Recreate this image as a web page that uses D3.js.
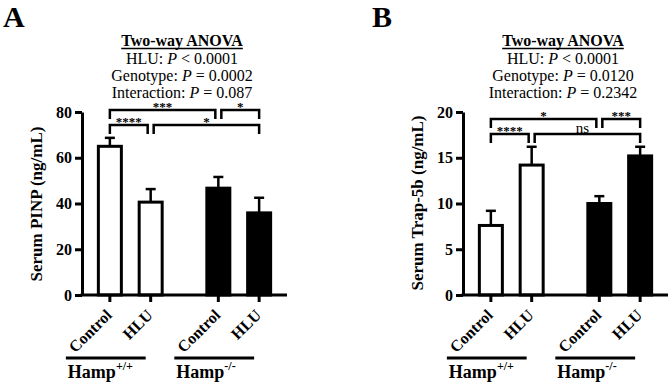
<!DOCTYPE html>
<html><head><meta charset="utf-8">
<script src="https://cdn.jsdelivr.net/npm/d3@7"></script>
<style>
body{margin:0;background:#fff}
svg{display:block}
text{font-family:"Liberation Serif","Times New Roman",serif;fill:#000}
</style>
</head><body><svg id="c" width="669" height="384"></svg>
<script>
// ---- data ----
const groups = ["+/+", "-/-"];
const treatments = ["Control", "HLU"];
const pinpMean = [65.0, 40.6, 46.7, 35.9];
const pinpSem  = [3.7, 5.7, 4.9, 6.6];
const trapMean = [7.6, 14.2, 10.0, 15.2];
const trapSem  = [1.6, 2.0, 0.8, 1.0];
const pinpTicks = [0, 20, 40, 60, 80];
const trapTicks = [0, 5, 10, 15, 20];
const pinpAnova = [["HLU: ", "< 0.0001"], ["Genotype: ", "= 0.0002"], ["Interaction: ", "= 0.087"]];
const trapAnova = [["HLU: ", "< 0.0001"], ["Genotype: ", "= 0.0120"], ["Interaction: ", "= 0.2342"]];
const pinpBrackets = [
  {from: 0, to: 2, row: 1, label: "***"},
  {from: 2, to: 3, row: 1, label: "*"},
  {from: 0, to: 1, row: 0, label: "****"},
  {from: 1, to: 3, row: 0, label: "*"}
];
const trapBrackets = [
  {from: 0, to: 2, row: 1, label: "*"},
  {from: 2, to: 3, row: 1, label: "***"},
  {from: 0, to: 1, row: 0, label: "****"},
  {from: 1, to: 3, row: 0, label: "ns"}
];

const panels = [
  {letter: "A", ox: 82, lx: 3, yLabel: "Serum PINP (ng/mL)", mean: pinpMean, sem: pinpSem,
   ticks: pinpTicks, anova: pinpAnova, brackets: pinpBrackets, rowBase: 125, labelY: 204},
  {letter: "B", ox: 463, lx: 372, yLabel: "Serum Trap-5b (ng/mL)", mean: trapMean, sem: trapSem,
   ticks: trapTicks, anova: trapAnova, brackets: trapBrackets, rowBase: 134, labelY: 203}
];

const svg = d3.select("#c");
const y0 = 295, yTop = 112, axisW = 205;

panels.forEach(p => {
  const g = svg.append("g");
  const y = d3.scaleLinear().domain([0, d3.max(p.ticks)]).range([y0, yTop]);
  const xo = d3.scaleBand().domain(groups).range([p.ox, p.ox + axisW]).paddingInner(0.25).paddingOuter(0.07);
  const xi = d3.scaleBand().domain(treatments).range([0, xo.bandwidth()]).paddingInner(0.4363).paddingOuter(0.215);
  const bars = [];
  groups.forEach((gr, gi) => treatments.forEach((t, ti) => {
    const i = gi * 2 + ti;
    bars.push({group: gr, treat: t, gi, i, mean: p.mean[i], sem: p.sem[i],
      x: xo(gr) + xi(t), cx: xo(gr) + xi(t) + xi.bandwidth() / 2});
  }));

  // panel letter
  g.append("text").attr("x", p.lx).attr("y", 27).attr("font-size", 30).attr("font-weight", "bold").text(p.letter);

  // ANOVA title
  const tx = p.ox + 100;
  const t0 = g.append("text").attr("x", tx).attr("y", 46).attr("text-anchor", "middle")
    .attr("font-size", 16).attr("font-weight", "bold").text("Two-way ANOVA");
  const tw = t0.node().getComputedTextLength();
  g.append("line").attr("x1", tx - tw / 2).attr("x2", tx + tw / 2).attr("y1", 48.5).attr("y2", 48.5)
    .attr("stroke", "#000").attr("stroke-width", 1.3);
  p.anova.forEach((a, k) => {
    const t = g.append("text").attr("x", tx).attr("y", 63.5 + k * 17.3).attr("text-anchor", "middle").attr("font-size", 16);
    t.append("tspan").text(a[0]);
    t.append("tspan").attr("font-style", "italic").text("P");
    t.append("tspan").text(" " + a[1]);
  });

  // y axis
  const ax = g.append("g").attr("transform", `translate(${p.ox},0)`)
    .call(d3.axisLeft(y).tickValues(p.ticks).tickSize(7).tickSizeOuter(0).tickPadding(3));
  ax.select(".domain").attr("stroke-width", 3);
  ax.selectAll(".tick line").attr("stroke-width", 3);
  ax.selectAll(".tick text").attr("font-size", 16).attr("font-weight", "bold")
    .attr("font-family", '"Liberation Serif","Times New Roman",serif').attr("fill", "#000");

  // y label
  g.append("text").attr("transform", `translate(${p.ox - 40},${p.labelY}) rotate(-90)`)
    .attr("text-anchor", "middle").attr("font-size", 17).attr("font-weight", "bold").text(p.yLabel);

  // bars
  g.selectAll("rect.bar").data(bars).join("rect").attr("class", "bar")
    .attr("x", d => d.x).attr("width", xi.bandwidth())
    .attr("y", d => y(d.mean)).attr("height", d => y0 - y(d.mean))
    .attr("fill", d => d.gi === 0 ? "#fff" : "#000")
    .attr("stroke", "#000").attr("stroke-width", 3);
  // error bars
  g.selectAll("line.err").data(bars).join("line").attr("class", "err")
    .attr("x1", d => d.cx).attr("x2", d => d.cx)
    .attr("y1", d => y(d.mean)).attr("y2", d => y(d.mean + d.sem))
    .attr("stroke", "#000").attr("stroke-width", 2.5);
  g.selectAll("line.cap").data(bars).join("line").attr("class", "cap")
    .attr("x1", d => d.cx - 5).attr("x2", d => d.cx + 5)
    .attr("y1", d => y(d.mean + d.sem)).attr("y2", d => y(d.mean + d.sem))
    .attr("stroke", "#000").attr("stroke-width", 2.5);

  // x axis line
  g.append("line").attr("x1", p.ox - 1.5).attr("x2", p.ox + axisW).attr("y1", y0).attr("y2", y0)
    .attr("stroke", "#000").attr("stroke-width", 3);
  g.selectAll("line.xt").data(bars).join("line").attr("class", "xt")
    .attr("x1", d => d.cx).attr("x2", d => d.cx).attr("y1", y0).attr("y2", y0 + 7)
    .attr("stroke", "#000").attr("stroke-width", 3);
  g.selectAll("text.xl").data(bars).join("text").attr("class", "xl")
    .attr("transform", d => `translate(${d.cx + 3},${y0 + 21}) rotate(-45)`)
    .attr("text-anchor", "end").attr("font-size", 16).attr("font-weight", "bold").text(d => d.treat);

  // group lines & labels
  groups.forEach((gr, gi) => {
    const a = bars[gi * 2], b = bars[gi * 2 + 1];
    const x1 = a.cx - 44, x2 = b.cx - 5;
    g.append("line").attr("x1", x1).attr("x2", x2).attr("y1", 358).attr("y2", 358)
      .attr("stroke", "#000").attr("stroke-width", 3);
    const t = g.append("text").attr("x", x1 + 2).attr("y", 378).attr("font-size", 18).attr("font-weight", "bold");
    t.append("tspan").text("Hamp");
    t.append("tspan").attr("dy", -8).attr("font-size", 12).text(gr);
  });

  // significance brackets
  p.brackets.forEach(bk => {
    const sameRow = p.brackets.filter(o => o.row === bk.row && o !== bk);
    let xa = bars[bk.from].cx, xb = bars[bk.to].cx;
    if (sameRow.some(o => o.to === bk.from)) xa += 3;
    if (sameRow.some(o => o.from === bk.to)) xb -= 3;
    const yy = p.rowBase - bk.row * 15;
    g.append("path").attr("d", `M${xa},${yy + 9}V${yy}H${xb}V${yy + 9}`)
      .attr("fill", "none").attr("stroke", "#000").attr("stroke-width", 2.5);
    const isNs = bk.label === "ns";
    g.append("text").attr("x", (xa + xb) / 2 - (isNs ? 5 : 0)).attr("y", isNs ? yy - 1 : yy + 1)
      .attr("text-anchor", "middle").attr("font-size", isNs ? 15 : 13).attr("font-weight", isNs ? "normal" : "bold")
      .text(bk.label);
  });
});
</script>
</body></html>
